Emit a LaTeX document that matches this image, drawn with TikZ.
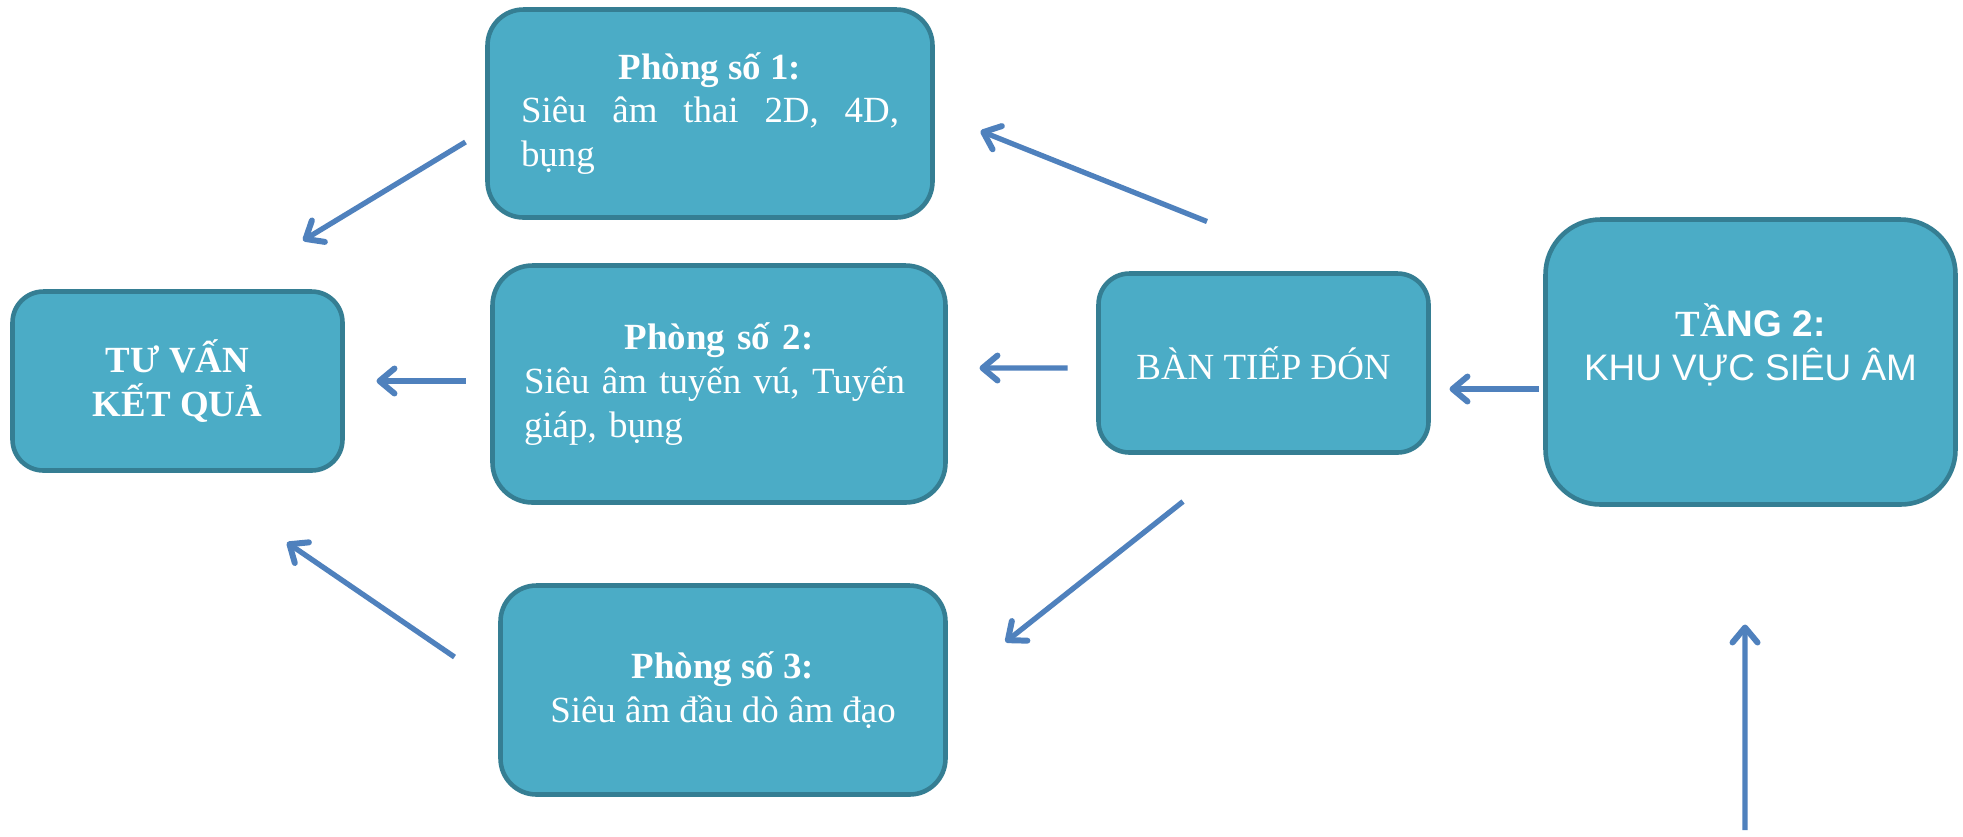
\documentclass[tikz,border=0pt]{standalone}
\usepackage{fontspec}
\setmainfont{Liberation Serif}
\setsansfont{Liberation Sans}
\definecolor{boxfill}{HTML}{4BACC6}
\definecolor{boxline}{HTML}{357E93}
\definecolor{flowblue}{HTML}{4F81BD}
\usetikzlibrary{calc, positioning, arrows.meta}
\tikzset{
  roombox/.style={draw=boxline, fill=boxfill, line width=1.3pt, text=white,
    font=\fontsize{10.5}{12.5}\selectfont, inner sep=0pt, outer sep=0pt},
  flow/.style={draw=flowblue, line width=1.5pt,
    -{Straight Barb[length=1.5mm, width=2.5mm, round, line width=1.7pt]}}
}

\begin{document}
\begin{tikzpicture}
  \fill[white] (0,0) rectangle (19.63,-8.36);

  % Tu van ket qua
  \node[roombox, minimum width=3.30cm, minimum height=1.79cm, rounded corners=0.31cm,
        align=center, font=\fontsize{10.5}{12.5}\selectfont\bfseries] (tuvan) at (1.775,-3.81)
        {TƯ VẤN\\KẾT QUẢ};

  % Phong so 1
  \node[roombox, minimum width=4.45cm, minimum height=2.08cm, rounded corners=0.36cm,
        text width=3.78cm, align=justify] (room1) at (7.10,-1.135)
        {{\centering\bfseries Phòng số 1:\par}Siêu âm thai 2D, 4D,\linebreak bụng};

  % Phong so 2
  \node[roombox, minimum width=4.53cm, minimum height=2.37cm, rounded corners=0.40cm,
        text width=3.90cm, align=left] (room2) at (7.19,-3.84)
        {{\centering\bfseries Phòng số 2:\par}Siêu âm tuyến vú, Tuyến\\giáp, bụng};

  % Phong so 3
  \node[roombox, minimum width=4.45cm, minimum height=2.09cm, rounded corners=0.36cm,
        align=center] (room3) at (7.23,-6.90)
        {{\bfseries Phòng số 3:}\\Siêu âm đầu dò âm đạo};

  % Ban tiep don
  \node[roombox, minimum width=3.30cm, minimum height=1.79cm, rounded corners=0.31cm]
        (bantiep) at (12.635,-3.63) {BÀN TIẾP ĐÓN};

  % Tang 2 - khu vuc sieu am
  \node[roombox, minimum width=4.10cm, minimum height=2.85cm, rounded corners=0.55cm]
        (tang2) at (17.505,-3.62) {};
  \node[text=white, font=\fontsize{10.5}{12.5}\selectfont, align=center, inner sep=0pt]
        (tang2text) at (17.505,-3.45)
        {{\bfseries TẦ\sffamily NG 2:}\\\sffamily KHU VỰC SIÊU ÂM};

  % Luong di chuyen
  \coordinate (entry) at (17.45,-8.30);
  \draw[flow] (entry) -- ([shift={(-0.055,-1.20)}]tang2.south);
  \draw[flow] ([shift={(-0.07,-0.27)}]tang2.west) -- ([shift={(0.21,-0.26)}]bantiep.east);
  \draw[flow] ([shift={(-0.565,0.52)}]bantiep.north) -- ([shift={(0.48,-0.175)}]room1.east);
  \draw[flow] ([shift={(-0.31,-0.05)}]bantiep.west) -- ([shift={(0.34,0.16)}]room2.east);
  \draw[flow] ([shift={(-0.805,-0.49)}]bantiep.south) -- ([shift={(0.60,0.48)}]room3.east);
  \draw[flow] ([shift={(-0.22,-0.285)}]room1.west) -- ([shift={(1.255,0.51)}]tuvan.north);
  \draw[flow] ([shift={(-0.27,0.03)}]room2.west) -- ([shift={(0.34,0)}]tuvan.east);
  \draw[flow] ([shift={(-0.46,0.33)}]room3.west) -- ([shift={(1.095,-0.72)}]tuvan.south);
\end{tikzpicture}
\end{document}
